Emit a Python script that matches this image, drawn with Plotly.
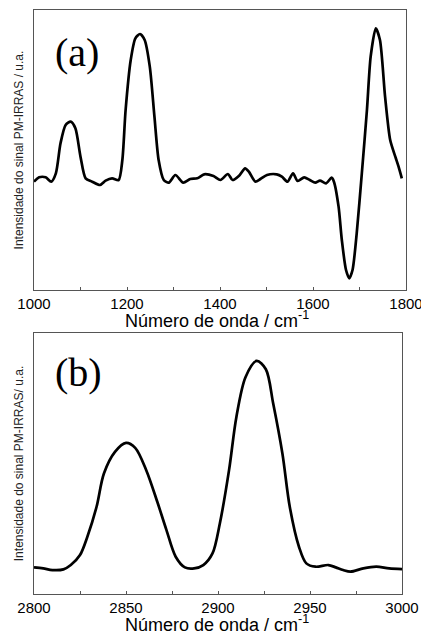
import plotly.graph_objects as go

# Panel (a): 1000-1800 cm-1
wn_a = [1000, 1011, 1025, 1037, 1047, 1057, 1068, 1079, 1089, 1100, 1111, 1125, 1142, 1154, 1168, 1182,
        1190, 1197, 1208, 1218, 1228, 1238, 1249, 1259, 1268, 1279, 1290, 1304, 1321, 1336, 1351, 1366,
        1386, 1401, 1417, 1427, 1441, 1454, 1462, 1476, 1487, 1501, 1522, 1533, 1545, 1557, 1567, 1581,
        1593, 1605, 1615, 1628, 1640, 1645, 1655, 1662, 1671, 1678, 1685, 1694, 1705, 1716, 1724, 1735,
        1744, 1755, 1766, 1777, 1784, 1791]
sig_a = [-5, 8, 8, -5, 20, 110, 165, 175, 155, 70, 5, -5, -15, -2, 5, 0,
         60, 210, 360, 425, 438, 420, 340, 190, 60, 0, -8, 15, -8, 3, 5, 17,
         12, 0, 18, 0, 13, 35, 25, -5, 3, 15, 17, 10, -5, 20, -3, 8,
         0, -8, -2, -10, 7, -5, -80, -180, -270, -295, -270, -160, 20, 210, 370, 455,
         420, 250, 120, 70, 40, 5]

# Panel (b): 2800-3000 cm-1
wn_b = [2800, 2805, 2810, 2816, 2820, 2825, 2829, 2834, 2838, 2844, 2850, 2855, 2861, 2867, 2872, 2877,
        2882, 2887, 2892, 2897, 2901, 2906, 2910, 2915, 2921, 2926, 2930, 2935, 2939, 2944, 2948, 2953,
        2960, 2964, 2968, 2972, 2979, 2986, 2993, 3000]
sig_b = [3, 0, -5, -3, 10, 40, 95, 185, 285, 350, 377, 362, 295, 200, 115, 35,
         3, 0, 10, 45, 135, 295, 455, 575, 623, 598, 495, 345, 185, 65, 15, 5,
         10, 3, -5, -10, 0, 5, 0, -2]

xa_ticks = [1000, 1200, 1400, 1600, 1800]
xb_ticks = [2800, 2850, 2900, 2950, 3000]
xtitle = "Número de onda / cm<sup>-1</sup>"
ytitle_a = "Intensidade do sinal PM-IRRAS / u.a."
ytitle_b = "Intensidade do sinal PM-IRRAS/ u.a."

fig = go.Figure()
fig.add_trace(go.Scatter(x=wn_a, y=sig_a, mode="lines", line=dict(color="black", width=2.7, shape="spline", smoothing=0.7),
                         xaxis="x", yaxis="y", showlegend=False, hoverinfo="skip"))
fig.add_trace(go.Scatter(x=wn_b, y=sig_b, mode="lines", line=dict(color="black", width=2.7, shape="spline", smoothing=0.9),
                         xaxis="x2", yaxis="y2", showlegend=False, hoverinfo="skip"))

W, H = 421, 634
axis_common = dict(showline=True, mirror=True, linecolor="#555555", linewidth=1.2, showgrid=False,
                   zeroline=False, automargin=False)
tickfont = dict(family="Liberation Sans, Arial, sans-serif", size=15, color="black")
titlefont = dict(family="Liberation Sans, Arial, sans-serif", size=18, color="black")
yfont = dict(family="Liberation Sans, Arial, sans-serif", size=12, color="#222222")
labelfont = dict(family="Liberation Serif, Times New Roman, serif", size=40, color="black")

fig.update_layout(
    width=W, height=H, margin=dict(l=0, r=0, t=0, b=0, autoexpand=False),
    paper_bgcolor="white", plot_bgcolor="white",
    xaxis=dict(domain=[34 / W, 406 / W], anchor="y", range=[1000, 1800], tickvals=xa_ticks,
               ticks="inside", ticklen=3, tickcolor="#555555", ticklabeloverflow="allow",
               minor=dict(dtick=100, ticks="inside", ticklen=3, tickcolor="#555555"),
               tickfont=tickfont, **axis_common),
    yaxis=dict(domain=[1 - 290 / H, 1 - 10 / H], anchor="x", range=[-330, 510], showticklabels=False, ticks="",
               title=dict(text=ytitle_a, font=yfont, standoff=6), **axis_common),
    xaxis2=dict(domain=[34 / W, 402 / W], anchor="y2", range=[2800, 3000], tickvals=xb_ticks,
                ticks="inside", ticklen=3, tickcolor="#555555", ticklabeloverflow="allow",
                minor=dict(dtick=25, ticks="inside", ticklen=3, tickcolor="#555555"),
                tickfont=tickfont, **axis_common),
    yaxis2=dict(domain=[1 - 594 / H, 1 - 333 / H], anchor="x2", range=[-77, 707], showticklabels=False, ticks="",
                title=dict(text=ytitle_b, font=yfont, standoff=6), **axis_common),
    annotations=[
        dict(text="(a)", xref="paper", yref="paper", x=53 / W, y=1 - 52 / H, xanchor="left", yanchor="middle",
             showarrow=False, font=labelfont),
        dict(text="(b)", xref="paper", yref="paper", x=53 / W, y=1 - 372 / H, xanchor="left", yanchor="middle",
             showarrow=False, font=labelfont),
        dict(text=xtitle, xref="paper", yref="paper", x=217 / W, y=1 - 333 / H, xanchor="center", yanchor="bottom",
             showarrow=False, font=titlefont),
        dict(text=xtitle, xref="paper", yref="paper", x=217 / W, y=1 - 637 / H, xanchor="center", yanchor="bottom",
             showarrow=False, font=titlefont),
    ],
)

fig.write_html("out.html", config={"displayModeBar": False},
               post_script="document.body.style.margin='0';document.body.style.overflow='hidden';")
